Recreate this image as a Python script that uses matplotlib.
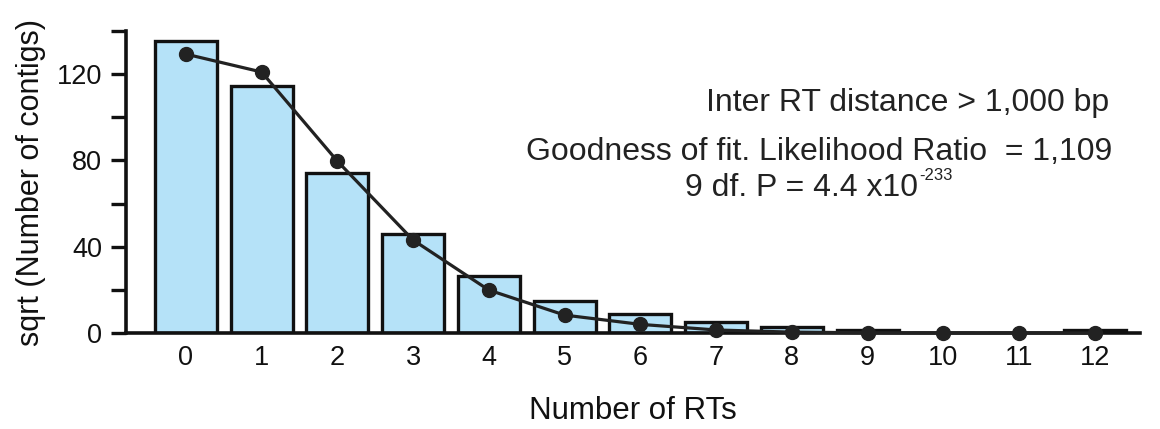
import matplotlib
matplotlib.use("Agg")
import matplotlib.pyplot as plt
from matplotlib.ticker import MultipleLocator

plt.rcParams['font.family'] = ['Liberation Sans', 'DejaVu Sans']

n_rts = [0, 1, 2, 3, 4, 5, 6, 7, 8, 9, 10, 11, 12]
observed = [135.3, 114.5, 74.1, 45.9, 26.4, 14.8, 8.6, 5.1, 3.0, 1.6, 0.0, 0.0, 1.6]
expected = [129.3, 121.0, 79.7, 43.1, 19.9, 8.3, 4.0, 1.4, 0.4, 0.1, 0.0, 0.0, 0.0]

fig = plt.figure(figsize=(11.6, 4.29), dpi=100)
ax = fig.add_axes([0.1086, 0.2238, 0.8744, 0.7039])

ax.bar(n_rts, observed, width=0.82, color='#B5E2F8', edgecolor='#111111', linewidth=2.4, zorder=2)
ax.plot(n_rts, expected, color='#222222', linewidth=2.3, marker='o', markersize=10,
        markerfacecolor='#222222', markeredgecolor='#222222', zorder=3, clip_on=False)

ax.set_xlim(-0.79, 12.6)
ax.set_ylim(0, 140)
ax.set_xticks(n_rts)
ax.set_xticklabels([str(v) for v in n_rts])
ax.yaxis.set_major_locator(MultipleLocator(40))
ax.yaxis.set_minor_locator(MultipleLocator(20))
ax.tick_params(axis='y', which='both', direction='out', length=11, width=2.4, labelsize=19.5,
               pad=6, colors='#111111')
ax.tick_params(axis='x', length=0, labelsize=19.5, pad=9, colors='#111111')

for s in ['top', 'right']:
    ax.spines[s].set_visible(False)
for s in ['left', 'bottom']:
    ax.spines[s].set_linewidth(2.6)
    ax.spines[s].set_color('#111111')

ax.set_xlabel('Number of RTs', fontsize=22.5, labelpad=18, color='#111111')
ax.set_ylabel('sqrt (Number of contigs)', fontsize=22, labelpad=8, color='#111111')

ax.text(0.969, 0.760, 'Inter RT distance > 1,000 bp', transform=ax.transAxes,
        ha='right', va='center', fontsize=23, color='#222222')
ax.text(0.972, 0.598, 'Goodness of fit. Likelihood Ratio  = 1,109', transform=ax.transAxes,
        ha='right', va='center', fontsize=23, color='#222222')
main = ax.text(0.551, 0.48, '9 df. P = 4.4 x10', transform=ax.transAxes,
               ha='left', va='center', fontsize=23, color='#222222')

fig.canvas.draw()
bb = main.get_window_extent(renderer=fig.canvas.get_renderer())
inv = ax.transAxes.inverted()
x1, y1 = inv.transform((bb.x1 + 1, bb.y1 - 2))
ax.text(x1, y1, '-233', transform=ax.transAxes, ha='left', va='center',
        fontsize=12, color='#222222')

fig.savefig('out.png', dpi=100)
